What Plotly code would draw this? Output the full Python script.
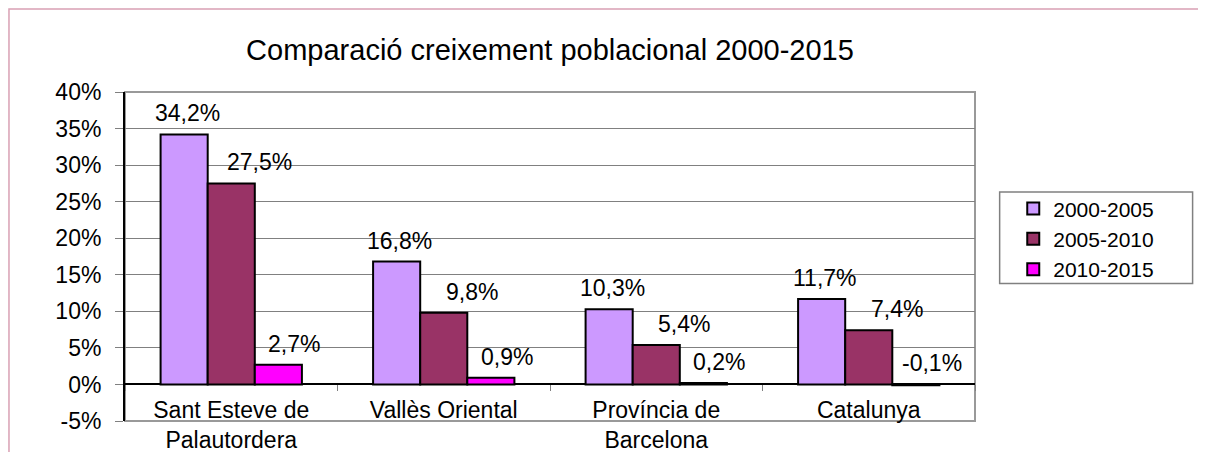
import plotly.graph_objects as go

categories = ["Sant Esteve de<br>Palautordera", "Vallès Oriental", "Província de<br>Barcelona", "Catalunya"]
series_names = ["2000-2005", "2005-2010", "2010-2015"]
v_2000_2005 = [34.2, 16.8, 10.3, 11.7]
v_2005_2010 = [27.5, 9.8, 5.4, 7.4]
v_2010_2015 = [2.7, 0.9, 0.2, -0.1]
y_ticks = [-5, 0, 5, 10, 15, 20, 25, 30, 35, 40]

colors = ["#CC99FF", "#993366", "#FF00FF"]
label_dx = [3, 28, 16]  # desplaçament horitzontal de les etiquetes (px)
font_family = "Liberation Sans, Arial, sans-serif"

plot_w = 850
bargap = 0.335
bar_px = plot_w / len(categories) * (1 - bargap) / len(series_names)

fig = go.Figure()
all_vals = [v_2000_2005, v_2005_2010, v_2010_2015]
for i, (name, vals, col) in enumerate(zip(series_names, all_vals, colors)):
    fig.add_trace(go.Bar(
        x=categories, y=vals, name=name,
        marker=dict(color=col, line=dict(color="black", width=2)),
    ))
    # etiquetes de dades (estil Excel)
    for cat, v in zip(categories, vals):
        fig.add_annotation(
            x=cat, y=max(v, 0), xref="x", yref="y",
            text=("%.1f%%" % v).replace(".", ","),
            showarrow=False, yanchor="bottom",
            xshift=(i - 1) * bar_px + label_dx[i], yshift=6,
            font=dict(size=23, color="black", family=font_family),
        )

# caixa del gràfic (vora rosa)
fig.add_shape(type="rect", xref="paper", yref="paper",
              x0=-0.1365, x1=1.2647, y0=-0.3, y1=1.2525,
              line=dict(color="#D9A0B4", width=1.5), layer="below")
# vora de l'àrea de dibuix
fig.add_shape(type="rect", xref="paper", yref="paper",
              x0=0, x1=1, y0=0, y1=1,
              line=dict(color="#999999", width=2), layer="below")
# caixa de la llegenda
fig.add_shape(type="rect", xref="paper", yref="paper",
              x0=1.029, x1=1.256, y0=0.418, y1=0.696,
              line=dict(color="#808080", width=1.5), layer="below")

fig.update_layout(
    width=1198, height=444,
    margin=dict(l=117, r=231, t=84, b=31),
    paper_bgcolor="white", plot_bgcolor="white",
    barmode="group", bargap=bargap, bargroupgap=0,
    font=dict(family=font_family, size=23, color="black"),
    title=dict(text="Comparació creixement poblacional 2000-2015",
               x=0.5, xref="paper", xanchor="center",
               y=0.905, yref="container", yanchor="middle",
               font=dict(size=29, color="black")),
    legend=dict(x=1.045, y=0.707, xanchor="left", yanchor="top",
                borderwidth=0, bgcolor="rgba(0,0,0,0)",
                font=dict(size=21), tracegroupgap=0, itemwidth=30),
    showlegend=True,
)

fig.update_yaxes(
    range=[-5, 40], tickvals=y_ticks,
    ticktext=["%d%%" % t for t in y_ticks],
    showgrid=True, gridcolor="#808080", gridwidth=1,
    zeroline=True, zerolinecolor="black", zerolinewidth=2,
    showline=True, linecolor="black", linewidth=2,
    ticks="outside", ticklen=8, tickcolor="#808080",
    tickfont=dict(size=23), ticklabelstandoff=9, automargin=False,
)
fig.update_xaxes(
    anchor="free", position=(0 - (-5)) / (40 - (-5)),
    showline=False, showgrid=False, automargin=False,
    ticks="outside", tickson="boundaries", ticklen=6, tickcolor="#808080",
    tickfont=dict(size=23), ticklabelstandoff=10,
)

fig.write_html("out.html")
